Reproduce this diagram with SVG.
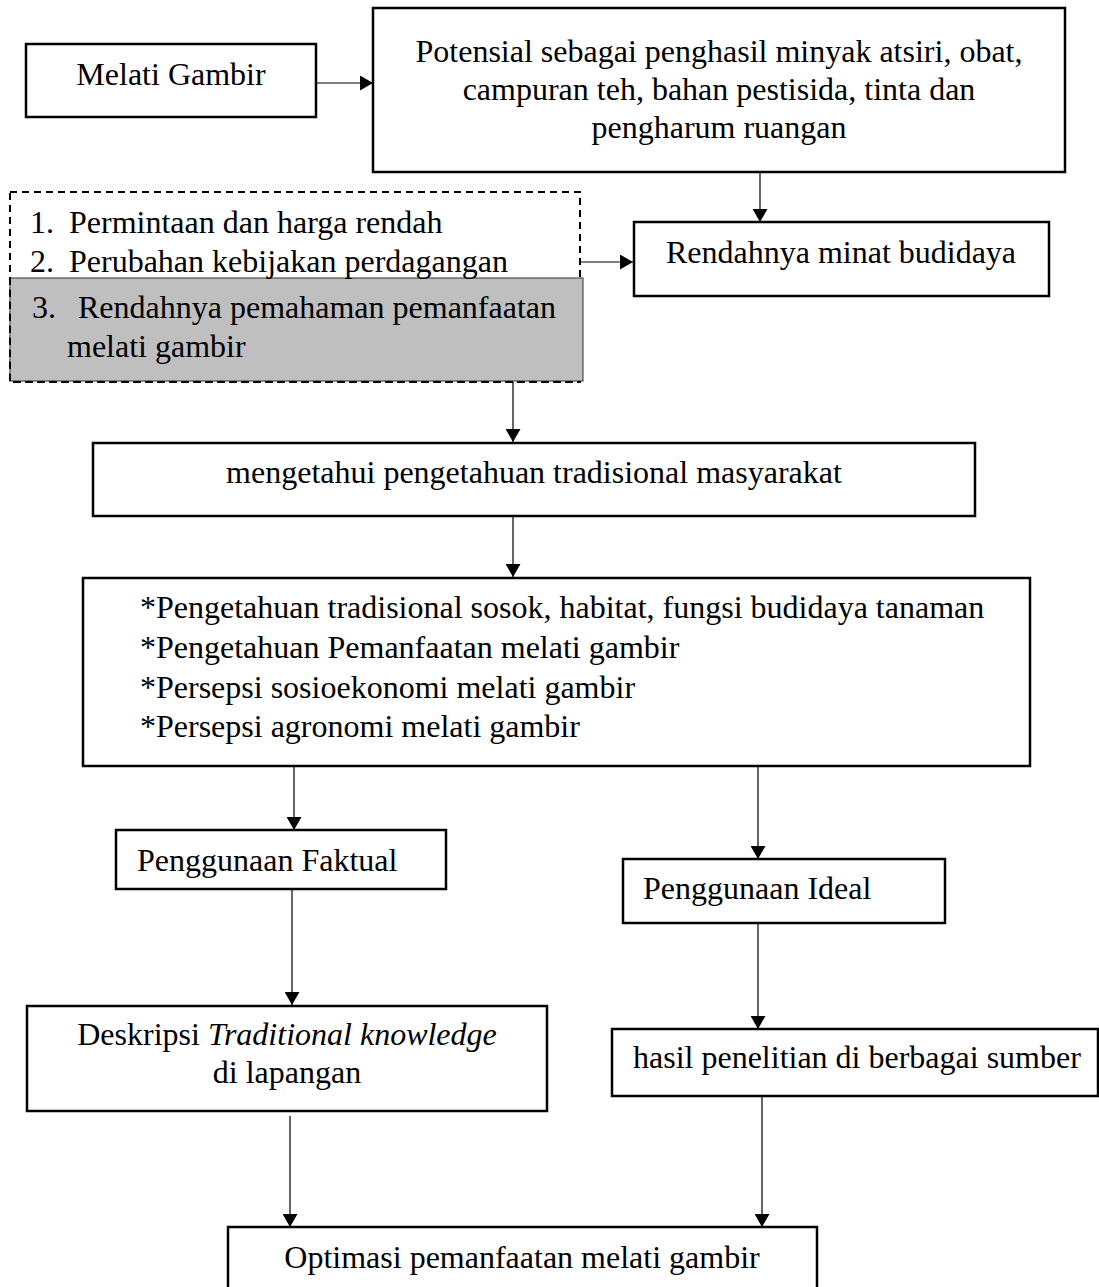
<svg xmlns="http://www.w3.org/2000/svg" width="1099" height="1287" viewBox="0 0 1099 1287">
<defs>
<style>
.box{fill:#fff;stroke:#000;stroke-width:2.5}
.t{font-family:"Liberation Serif","Times New Roman",serif;font-size:32px;fill:#000}
.m{text-anchor:middle}
.c{fill:none;stroke:#000;stroke-width:1.2}
</style>
<marker id="ah" viewBox="0 0 13 15" refX="13" refY="7.5" markerWidth="13" markerHeight="15" markerUnits="userSpaceOnUse" orient="auto">
<path d="M0,0 L13,7.5 L0,15 Z" fill="#000"/>
</marker>
</defs>
<rect width="1099" height="1287" fill="#fff"/>

<g id="connectors">
<path class="c" d="M317,83 H373" marker-end="url(#ah)"/>
<path class="c" d="M760,172 V222" marker-end="url(#ah)"/>
<path class="c" d="M581,262 H633" marker-end="url(#ah)"/>
<path class="c" d="M513,377 V442" marker-end="url(#ah)"/>
<path class="c" d="M513,516 V577" marker-end="url(#ah)"/>
<path class="c" d="M294,766 V830" marker-end="url(#ah)"/>
<path class="c" d="M758,766 V859" marker-end="url(#ah)"/>
<path class="c" d="M292,889 V1005" marker-end="url(#ah)"/>
<path class="c" d="M758,923 V1029" marker-end="url(#ah)"/>
<path class="c" d="M290,1116 V1227" marker-end="url(#ah)"/>
<path class="c" d="M762,1096 V1227" marker-end="url(#ah)"/>
</g>

<g id="melati">
<rect class="box" x="26" y="44" width="290" height="73"/>
<text class="t m" x="171" y="85">Melati Gambir</text>
</g>

<g id="potensial">
<rect class="box" x="373" y="8" width="692" height="164"/>
<text class="t m" x="719" y="62">Potensial sebagai penghasil minyak atsiri, obat,</text>
<text class="t m" x="719" y="100">campuran teh, bahan pestisida, tinta dan</text>
<text class="t m" x="719" y="138">pengharum ruangan</text>
</g>

<g id="rendahnya">
<rect class="box" x="634" y="222" width="415" height="74"/>
<text class="t m" x="841" y="263">Rendahnya minat budidaya</text>
</g>

<g id="faktor">
<rect x="10" y="192" width="570" height="190" fill="#fff" stroke="#000" stroke-width="2" stroke-dasharray="7 5"/>
<rect x="10" y="278" width="573" height="103" fill="#bfbfbf" stroke="#333" stroke-width="1"/>
<path d="M10,278 V382 H580" fill="none" stroke="#000" stroke-width="2" stroke-dasharray="7 5"/>
<text class="t" x="30" y="233">1.</text>
<text class="t" x="69" y="233">Permintaan dan harga rendah</text>
<text class="t" x="30" y="272">2.</text>
<text class="t" x="69" y="272">Perubahan kebijakan perdagangan</text>
<text class="t" x="32" y="318">3.</text>
<text class="t" x="78" y="318">Rendahnya pemahaman pemanfaatan</text>
<text class="t" x="67" y="357">melati gambir</text>
</g>

<g id="mengetahui">
<rect class="box" x="93" y="443" width="882" height="73"/>
<text class="t m" x="534" y="483">mengetahui pengetahuan tradisional masyarakat</text>
</g>

<g id="pengetahuan">
<rect class="box" x="83" y="578" width="947" height="188"/>
<text class="t" x="140" y="618">*Pengetahuan tradisional sosok, habitat, fungsi budidaya tanaman</text>
<text class="t" x="140" y="658">*Pengetahuan Pemanfaatan melati gambir</text>
<text class="t" x="140" y="698">*Persepsi sosioekonomi melati gambir</text>
<text class="t" x="140" y="737">*Persepsi agronomi melati gambir</text>
</g>

<g id="faktual">
<rect class="box" x="116" y="830" width="330" height="59"/>
<text class="t" x="137" y="871">Penggunaan Faktual</text>
</g>

<g id="ideal">
<rect class="box" x="623" y="859" width="322" height="64"/>
<text class="t" x="643" y="899">Penggunaan Ideal</text>
</g>

<g id="deskripsi">
<rect class="box" x="27" y="1006" width="520" height="105"/>
<text class="t m" x="287" y="1045">Deskripsi <tspan font-style="italic">Traditional knowledge</tspan></text>
<text class="t m" x="287" y="1083">di lapangan</text>
</g>

<g id="hasil">
<rect class="box" x="612" y="1029" width="486" height="67"/>
<text class="t" x="633" y="1068">hasil penelitian di berbagai sumber</text>
</g>

<g id="optimasi">
<rect class="box" x="228" y="1227" width="589" height="80"/>
<text class="t m" x="522" y="1268">Optimasi pemanfaatan melati gambir</text>
</g>
</svg>
